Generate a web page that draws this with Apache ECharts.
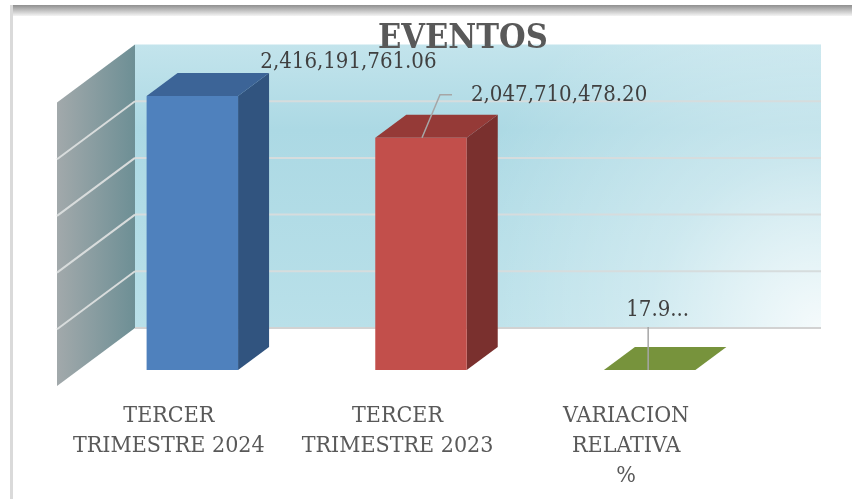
<!DOCTYPE html>
<html>
<head>
<meta charset="utf-8">
<title>EVENTOS</title>
<script src="https://cdn.jsdelivr.net/npm/echarts@6/dist/echarts.min.js"></script>
<style>
  html, body { margin: 0; padding: 0; background: #fff; }
  #chart { width: 852px; height: 499px; }
</style>
</head>
<body>
<div id="chart"></div>
<script>
// data
const categories = ['TERCER\nTRIMESTRE 2024', 'TERCER\nTRIMESTRE 2023', 'VARIACION\nRELATIVA\n%'];
const values = [2416191761.06, 2047710478.20, 17.99];
const valueMax = 2500000000;
const valueStep = 500000000;

// look of the 3d box (pixels)
const barDepth = [31, -23];      // bar front -> bar back
const wallBack = [57, -42];      // bar front plane -> back wall
const wallFront = [-21, 16];     // bar front plane -> front edge of floor
const faceColors = [
  { front: '#4f81bd', top: '#3c6497', side: '#31547f' },
  { front: '#c24f4b', top: '#953a37', side: '#7a302e' },
  { front: '#77933c', top: '#77933c', side: '#5f7730' }
];
// label offsets from the top-centre of each bar front, leader line points
const labelLayout = [
  { x: 68, y: -34, align: 'left', leader: null },
  { x: 50, y: -43, align: 'left', leader: [[31, -43], [19, -43], [1, 0]] },
  { x: 8, y: -60, align: 'center', leader: [[-1.5, -43], [-1.5, 0]] }
];
const labelFont = '"DejaVu Serif Condensed", "DejaVu Serif", serif';

function fmt(v) {
  if (v >= 1000) {
    return v.toLocaleString('en-US', { minimumFractionDigits: 2, maximumFractionDigits: 2 });
  }
  // excel cut the small label short
  return String(v).slice(0, 4) + '...';
}

function renderWalls(params, api) {
  const cs = params.coordSys;
  const left = cs.x, right = cs.x + cs.width, bottom = cs.y + cs.height;
  const bl = left + wallBack[0], br = right + wallBack[0];
  const topY = api.coord([0, valueMax])[1] + wallBack[1];
  const floorY = bottom + wallBack[1];
  const fx = left + wallFront[0];
  const depthY = wallFront[1] - wallBack[1];
  const kids = [];

  kids.push({
    type: 'rect',
    shape: { x: bl, y: topY, width: br - bl, height: floorY - topY },
    style: {
      fill: new echarts.graphic.LinearGradient(0, 0, 0, 1, [
        { offset: 0, color: '#c3e4ec' },
        { offset: 0.3, color: '#acd9e4' },
        { offset: 1, color: '#b9e0e9' }
      ])
    }
  });
  kids.push({
    type: 'rect',
    shape: { x: bl, y: topY, width: br - bl, height: floorY - topY },
    style: {
      fill: new echarts.graphic.RadialGradient(1, 1, 1.35, [
        { offset: 0, color: 'rgba(255,255,255,0.85)' },
        { offset: 0.45, color: 'rgba(255,255,255,0.35)' },
        { offset: 1, color: 'rgba(255,255,255,0)' }
      ])
    }
  });
  kids.push({
    type: 'polygon',
    shape: { points: [[bl, topY], [bl, floorY], [fx, floorY + depthY], [fx, topY + depthY]] },
    style: {
      fill: new echarts.graphic.LinearGradient(0, 0, 1, 0, [
        { offset: 0, color: '#a2a9ab' },
        { offset: 1, color: '#6d8f95' }
      ])
    }
  });
  for (let v = valueStep; v < valueMax; v += valueStep) {
    const y = api.coord([0, v])[1] + wallBack[1];
    kids.push({ type: 'line', shape: { x1: bl, y1: y, x2: br, y2: y }, style: { stroke: '#d6dcdd', lineWidth: 2 } });
    kids.push({ type: 'line', shape: { x1: bl, y1: y, x2: fx, y2: y + depthY }, style: { stroke: '#d8dcdc', lineWidth: 2 } });
  }
  kids.push({ type: 'line', shape: { x1: bl, y1: floorY, x2: br, y2: floorY }, style: { stroke: '#d2d2d2', lineWidth: 2 } });
  return { type: 'group', children: kids };
}

function renderBar(params, api) {
  const i = api.value(0);
  const v = api.value(1);
  const base = api.coord([i, 0]);
  const top = api.coord([i, v]);
  const w = api.size([1, 0])[0] * 0.4;
  const x0 = base[0] - w / 2, x1 = base[0] + w / 2;
  const yb = base[1], yt = Math.min(top[1], yb);
  const [dx, dy] = barDepth;
  const c = faceColors[i];
  const kids = [
    { type: 'polygon', shape: { points: [[x1, yb], [x1 + dx, yb + dy], [x1 + dx, yt + dy], [x1, yt]] }, style: { fill: c.side } },
    { type: 'polygon', shape: { points: [[x0, yt], [x0 + dx, yt + dy], [x1 + dx, yt + dy], [x1, yt]] }, style: { fill: c.top } },
    { type: 'rect', shape: { x: x0, y: yt, width: w, height: yb - yt }, style: { fill: c.front } }
  ];
  const lay = labelLayout[i];
  if (lay.leader) {
    kids.push({
      type: 'polyline',
      shape: { points: lay.leader.map(p => [base[0] + p[0], yt + p[1]]) },
      style: { stroke: '#a6a6a6', lineWidth: 1.5, fill: null }
    });
  }
  kids.push({
    type: 'text',
    style: {
      text: fmt(v),
      x: base[0] + lay.x,
      y: yt + lay.y,
      align: lay.align,
      verticalAlign: 'middle',
      fontSize: 22,
      fontFamily: labelFont,
      fill: '#404040'
    }
  });
  return { type: 'group', children: kids };
}

const chart = echarts.init(document.getElementById('chart'));

chart.setOption({
  animation: false,
  backgroundColor: '#ffffff',
  title: {
    text: 'EVENTOS',
    left: 378,
    top: 22,
    padding: 0,
    textStyle: { fontFamily: labelFont, fontWeight: 'bold', fontSize: 34, color: '#595959' }
  },
  graphic: [
    {
      type: 'rect', left: 10, top: 5, z: -10,
      shape: { width: 842, height: 11 },
      style: {
        fill: new echarts.graphic.LinearGradient(0, 0, 0, 1, [
          { offset: 0, color: '#8f8f8f' },
          { offset: 1, color: '#f4f4f4' }
        ])
      }
    },
    {
      type: 'rect', left: 10, top: 5, z: -10,
      shape: { width: 3, height: 494 },
      style: { fill: '#dadada' }
    }
  ],
  grid: { left: 78, right: 88, top: 86.5, bottom: 129 },
  xAxis: {
    type: 'category',
    data: categories,
    axisLine: { show: false },
    axisTick: { show: false },
    axisLabel: {
      interval: 0,
      margin: 31,
      lineHeight: 30,
      fontSize: 23,
      fontFamily: labelFont,
      color: '#595959',
      padding: [0, 47, 0, 0]
    }
  },
  yAxis: {
    type: 'value',
    min: 0,
    max: valueMax,
    interval: valueStep,
    axisLine: { show: false },
    axisTick: { show: false },
    axisLabel: { show: false },
    splitLine: { show: false }
  },
  series: [
    {
      type: 'custom',
      name: 'walls',
      clip: false,
      silent: true,
      z: 1,
      renderItem: renderWalls,
      data: [[0, 0]]
    },
    {
      type: 'custom',
      name: 'EVENTOS',
      clip: false,
      z: 2,
      renderItem: renderBar,
      encode: { x: 0, y: 1 },
      data: values.map((v, i) => [i, v])
    }
  ]
});
</script>
</body>
</html>
